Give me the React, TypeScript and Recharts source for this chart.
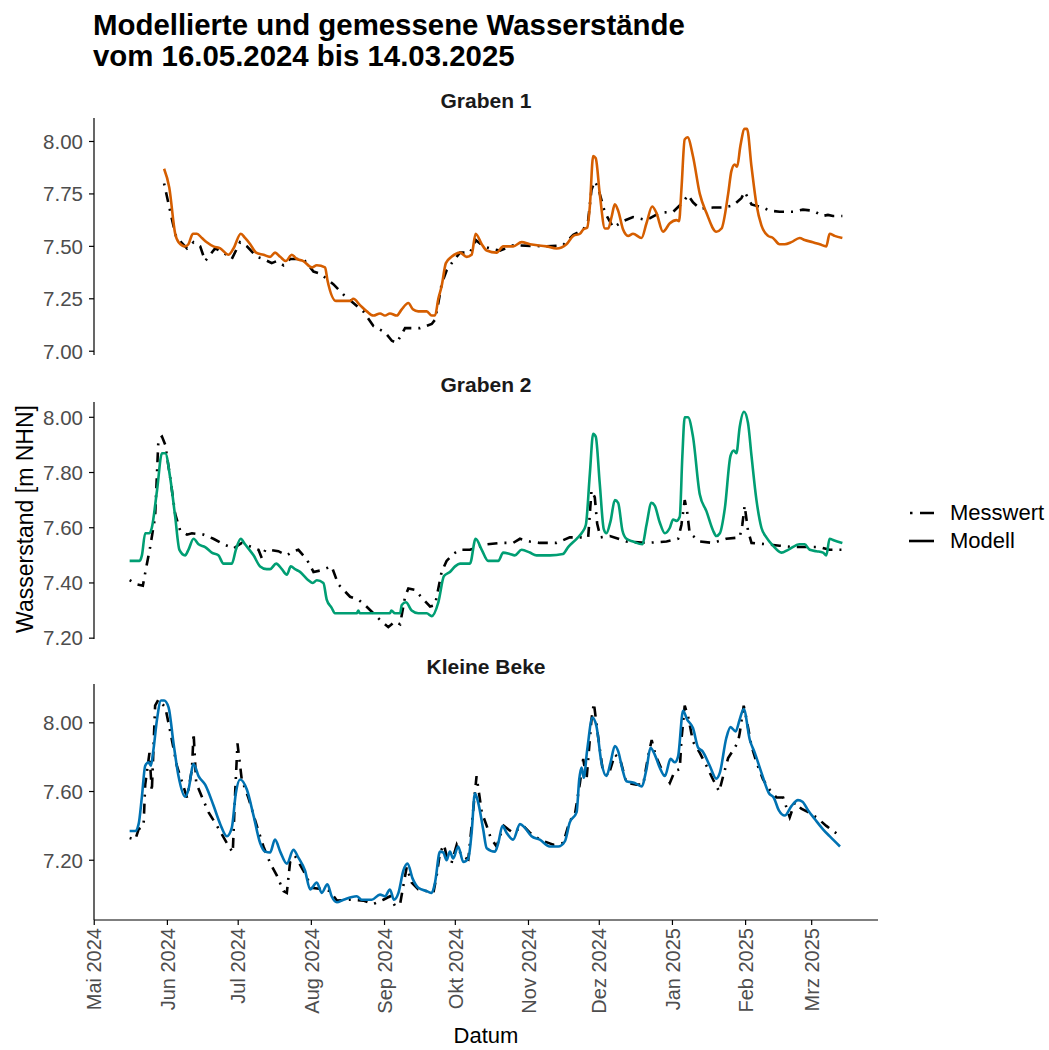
import React from 'react';
import { LineChart, Line, XAxis, YAxis } from 'recharts';

// ---------- axis definitions (x = days since 16.05.2024) ----------
const monthTicks = [-15, 16, 46, 77, 108, 138, 169, 199, 230, 261, 289];
const monthLabels = ['Mai 2024', 'Jun 2024', 'Jul 2024', 'Aug 2024', 'Sep 2024', 'Okt 2024', 'Nov 2024', 'Dez 2024', 'Jan 2025', 'Feb 2025', 'Mrz 2025'];
const xDomain: [number, number] = [-15.1, 317.1];

const graben1Ticks = [7.0, 7.25, 7.5, 7.75, 8.0];
const graben2Ticks = [7.2, 7.4, 7.6, 7.8, 8.0];
const kleineBekeTicks = [7.2, 7.6, 8.0];

// ---------- Graben 1 ----------
const graben1Messwert: [number, number][] = [
  [14.6, 7.80], [17.9, 7.63], [19.7, 7.545], [24.3, 7.49], [27.1, 7.52], [29.9, 7.50], [32, 7.43], [36.2, 7.49],
  [39.8, 7.47], [43.3, 7.44], [46.8, 7.52], [49.7, 7.50], [53.9, 7.45], [56.7, 7.44], [60.2, 7.42], [62.4, 7.43],
  [65.2, 7.41], [68, 7.44], [73.6, 7.44], [77.9, 7.38], [80.7, 7.37], [86.3, 7.32], [90.6, 7.27], [94.8, 7.23],
  [99, 7.19], [103.3, 7.12], [108.2, 7.09], [111.1, 7.05], [113.2, 7.04], [116.7, 7.11], [123, 7.11], [128, 7.13],
  [129.4, 7.15], [130.8, 7.23], [132.2, 7.32], [134.3, 7.385], [137.1, 7.43], [140, 7.47], [144.2, 7.47], [146.7, 7.53],
  [149.8, 7.50], [152.7, 7.49], [156.9, 7.48], [162.5, 7.505], [176.7, 7.50], [183.6, 7.505], [188, 7.555], [192.2, 7.58],
  [194.3, 7.625], [195.7, 7.77], [197.1, 7.81], [198.5, 7.78], [201.4, 7.66], [204.9, 7.59], [209.1, 7.62], [213.3, 7.64],
  [219, 7.625], [224.6, 7.66], [230.3, 7.665], [234.5, 7.71], [236.6, 7.745], [238.7, 7.71], [241.6, 7.68], [247.2, 7.685],
  [251.4, 7.685], [255.7, 7.695], [259.2, 7.73], [260.6, 7.76], [263.5, 7.70], [268.4, 7.685], [271.2, 7.67], [275.4, 7.665],
  [281.1, 7.665], [285.3, 7.675], [289.5, 7.67], [293.7, 7.645], [295.9, 7.65], [298, 7.645], [302, 7.645],
];
const graben1Modell: [number, number][] = [
  [14.6, 7.87], [16.8, 7.78], [19.3, 7.56], [20.7, 7.52], [23.5, 7.50], [24.9, 7.51], [26.8, 7.56], [28.5, 7.56],
  [30.6, 7.54], [32.7, 7.52], [35.5, 7.50], [38.4, 7.49], [41.9, 7.46], [44, 7.49], [47.1, 7.56], [48.9, 7.54],
  [51.1, 7.51], [53.6, 7.47], [56.7, 7.46], [59.5, 7.45], [61.6, 7.47], [63.8, 7.45], [66.2, 7.43], [68.7, 7.46],
  [70.8, 7.44], [73.6, 7.43], [77.2, 7.40], [79.3, 7.41], [82.8, 7.40], [83.8, 7.34], [87.5, 7.24], [93.4, 7.24],
  [94.8, 7.25], [97.6, 7.22], [100.5, 7.19], [103.3, 7.17], [106.1, 7.18], [108.2, 7.17], [110.3, 7.18], [113.2, 7.17],
  [115.3, 7.20], [118.1, 7.23], [120, 7.20], [122.3, 7.19], [125.9, 7.19], [128, 7.17], [129.4, 7.17], [130.8, 7.25],
  [132.2, 7.31], [134, 7.42], [136.4, 7.45], [140, 7.47], [142.8, 7.45], [144.9, 7.46], [146.6, 7.56], [149.2, 7.51],
  [151.3, 7.48], [155.5, 7.47], [158.3, 7.50], [162.5, 7.50], [166.1, 7.52], [169.6, 7.51], [176.7, 7.50], [180.9, 7.49],
  [185.1, 7.51], [188, 7.55], [190.8, 7.56], [192.2, 7.58], [193.9, 7.59], [195, 7.69], [196.4, 7.93], [197.5, 7.92],
  [199.2, 7.75], [201.4, 7.585], [202.8, 7.585], [204.2, 7.64], [205.6, 7.70], [207, 7.67], [209.1, 7.58], [211.2, 7.55],
  [213.3, 7.56], [216.9, 7.54], [219, 7.61], [221.4, 7.69], [223.2, 7.66], [226, 7.57], [228.9, 7.61], [231.7, 7.625],
  [232.8, 7.62], [233.8, 7.77], [235.2, 8.01], [236.4, 8.02], [238.7, 7.93], [241.6, 7.75], [244.4, 7.66], [248.6, 7.57],
  [250.8, 7.585], [253.6, 7.75], [255, 7.86], [256.4, 7.89], [257.4, 7.88], [258.8, 7.98], [260.6, 8.06], [261.6, 8.06],
  [263.5, 7.88], [265.6, 7.70], [267.7, 7.60], [270.5, 7.55], [272.6, 7.54], [275.4, 7.51], [277.6, 7.51], [280.4, 7.52],
  [283.9, 7.54], [286, 7.53], [289.5, 7.52], [292.4, 7.51], [295.2, 7.50], [296.6, 7.56], [298.7, 7.55], [302, 7.54],
];

// ---------- Graben 2 ----------
const graben2Messwert: [number, number][] = [
  [0, 7.41], [3.1, 7.395], [5.6, 7.39], [7, 7.455], [8.7, 7.53], [10.8, 7.64], [12.2, 7.92], [13.7, 7.93],
  [15.1, 7.90], [17.2, 7.78], [19.3, 7.65], [21.4, 7.59], [24.3, 7.575], [26.4, 7.58], [31.3, 7.575], [35.5, 7.56],
  [39.8, 7.54], [44, 7.525], [47.5, 7.545], [50.3, 7.535], [54.6, 7.52], [56, 7.49], [57.5, 7.52], [59.5, 7.52],
  [63, 7.515], [66.6, 7.50], [69.4, 7.515], [71.5, 7.52], [75.1, 7.485], [77.9, 7.44], [80.7, 7.445], [85.6, 7.46],
  [88.4, 7.395], [93.4, 7.35], [96.9, 7.34], [99.7, 7.32], [103.3, 7.29], [106.8, 7.26], [109.6, 7.24], [112.4, 7.26],
  [114.6, 7.25], [116.7, 7.35], [118.1, 7.38], [120.9, 7.375], [124.5, 7.34], [127.3, 7.315], [129.4, 7.32], [130.8, 7.38],
  [132.2, 7.44], [134.3, 7.48], [137.1, 7.505], [140, 7.52], [144.2, 7.52], [147.7, 7.53], [151.3, 7.54], [156.9, 7.545],
  [162.5, 7.545], [165.4, 7.56], [169.6, 7.55], [173.8, 7.545], [180.9, 7.545], [186.5, 7.565], [192.2, 7.565], [194.3, 7.565],
  [195.7, 7.735], [197.1, 7.71], [198.1, 7.615], [199.5, 7.565], [203.5, 7.57], [210.5, 7.55], [219, 7.545], [227.5, 7.55],
  [232.4, 7.56], [233.8, 7.61], [235.2, 7.70], [236.2, 7.66], [237.3, 7.58], [241.6, 7.55], [247.2, 7.545], [252.8, 7.56],
  [258.5, 7.565], [259.6, 7.61], [260.6, 7.68], [262, 7.59], [263.5, 7.545], [269.8, 7.54], [275.4, 7.535], [281.1, 7.53],
  [286.7, 7.53], [292.4, 7.53], [296.6, 7.52], [302, 7.52],
];
const graben2Modell: [number, number][] = [
  [0, 7.48], [4.2, 7.48], [5.2, 7.50], [6.6, 7.58], [8.4, 7.58], [9.4, 7.60], [11.6, 7.735], [13.7, 7.87],
  [15.1, 7.87], [17.2, 7.78], [19.3, 7.64], [21.1, 7.52], [23.5, 7.50], [24.9, 7.52], [27.1, 7.56], [29.2, 7.54],
  [32, 7.53], [34.8, 7.51], [37.6, 7.50], [39.8, 7.47], [43.3, 7.47], [45, 7.52], [47.1, 7.56], [48.9, 7.54],
  [52.5, 7.50], [55.3, 7.46], [58.1, 7.45], [59.5, 7.45], [62.1, 7.47], [64.5, 7.45], [66.6, 7.43], [68.3, 7.46],
  [70.1, 7.45], [72.2, 7.44], [75.7, 7.41], [77.6, 7.40], [79.3, 7.41], [82.1, 7.40], [83.5, 7.34], [85.6, 7.31],
  [87, 7.29], [96.2, 7.29], [96.9, 7.30], [97.5, 7.29], [110.3, 7.29], [110.9, 7.30], [112.4, 7.29], [114.6, 7.29],
  [115.3, 7.32], [117.1, 7.33], [119.5, 7.30], [122.3, 7.29], [125.9, 7.29], [128, 7.28], [130.8, 7.33], [133.2, 7.425],
  [135.7, 7.44], [137.9, 7.46], [140, 7.47], [144.2, 7.47], [146.6, 7.56], [149.2, 7.52], [151.9, 7.48], [156.2, 7.48],
  [158.3, 7.51], [161.1, 7.505], [163.2, 7.50], [166.1, 7.52], [169.6, 7.51], [172.4, 7.50], [178.1, 7.50], [183.6, 7.505],
  [185.8, 7.53], [189.4, 7.56], [191.5, 7.58], [193.3, 7.61], [195, 7.795], [196.4, 7.94], [197.5, 7.93], [199.2, 7.76],
  [200.9, 7.595], [202, 7.58], [203.8, 7.625], [205.6, 7.70], [207, 7.69], [208.8, 7.59], [210.5, 7.56], [213.3, 7.55],
  [217.3, 7.54], [219, 7.61], [221.1, 7.69], [222.5, 7.68], [224.6, 7.62], [226.8, 7.58], [228.9, 7.60], [230.3, 7.63],
  [231.7, 7.625], [233.1, 7.64], [234.2, 7.86], [235.2, 8.00], [236.6, 8.00], [238.7, 7.93], [241.6, 7.72], [244.4, 7.66],
  [247.2, 7.59], [248.6, 7.57], [250.1, 7.58], [252.2, 7.67], [254.6, 7.86], [256, 7.88], [257.1, 7.87], [258.5, 7.965],
  [260.3, 8.02], [262, 7.98], [263.5, 7.86], [265.6, 7.70], [267.7, 7.60], [269.8, 7.565], [272.6, 7.535], [276.2, 7.51],
  [279, 7.52], [283.9, 7.54], [286, 7.54], [288.2, 7.52], [291, 7.515], [293.8, 7.51], [295.2, 7.50], [296.6, 7.56],
  [298.3, 7.555], [302, 7.545],
];

// ---------- Kleine Beke ----------
const kleineBekeMesswert: [number, number][] = [
  [0, 7.33], [2.4, 7.32], [3.8, 7.38], [5.9, 7.40], [6.6, 7.64], [8.4, 7.825], [9.4, 7.60], [10.8, 8.10],
  [12.2, 8.135], [15.1, 8.09], [17.2, 7.95], [20, 7.75], [24.3, 7.565], [26.4, 7.73], [27.1, 7.94], [28.2, 7.65],
  [30.6, 7.57], [33.4, 7.48], [37, 7.40], [41.2, 7.30], [43.7, 7.245], [44.7, 7.59], [45.7, 7.88], [47.5, 7.67],
  [50.3, 7.565], [53.9, 7.40], [56.7, 7.28], [59.5, 7.185], [62.4, 7.11], [65.2, 7.02], [66.6, 7.01], [68, 7.19],
  [70.1, 7.225], [73.6, 7.14], [77.2, 7.04], [82.1, 7.03], [84.9, 7.02], [87.8, 6.965], [93.4, 6.97], [99, 6.965],
  [103.3, 6.945], [107.5, 6.97], [110.3, 6.99], [112.4, 6.935], [114.6, 6.945], [115.7, 7.03], [117.4, 7.16], [119.5, 7.07],
  [122.3, 7.03], [125.9, 7.02], [128.7, 7.01], [130.1, 7.11], [131.5, 7.245], [133.2, 7.29], [134.3, 7.225], [136.4, 7.185],
  [138.6, 7.29], [140.7, 7.225], [143.5, 7.205], [145.6, 7.495], [147, 7.69], [149.2, 7.48], [151.3, 7.40], [153, 7.33],
  [155.5, 7.28], [156.9, 7.34], [158.6, 7.40], [160.4, 7.38], [162.5, 7.36], [166.8, 7.40], [169.6, 7.36], [173.8, 7.32],
  [179.5, 7.29], [183.7, 7.30], [186.5, 7.43], [188.6, 7.46], [190.8, 7.65], [192.2, 7.79], [193.6, 7.67], [195.7, 8.02],
  [196.7, 8.115], [198.5, 7.92], [200.4, 7.73], [202.8, 7.69], [205.6, 7.815], [207.8, 7.79], [210.5, 7.65], [214.8, 7.64],
  [217.6, 7.64], [219.7, 7.805], [221.2, 7.90], [223, 7.805], [225.4, 7.73], [228.9, 7.65], [231, 7.72], [233.1, 7.73],
  [233.8, 7.90], [235.2, 8.10], [236.6, 8.04], [238.7, 7.89], [241.6, 7.825], [244.4, 7.75], [247.2, 7.67], [249.8, 7.60],
  [251.5, 7.69], [253.6, 7.795], [256.4, 7.855], [257.8, 7.89], [258.5, 7.94], [260.2, 8.10], [261.4, 8.02], [263.5, 7.865],
  [265.6, 7.77], [268.4, 7.67], [271.2, 7.61], [274.1, 7.565], [276.9, 7.565], [279.7, 7.45], [281.8, 7.535], [284.6, 7.50],
  [287.5, 7.48], [291, 7.45], [295.2, 7.40], [300.1, 7.35], [302, 7.34],
];
const kleineBekeModell: [number, number][] = [
  [0, 7.37], [2.4, 7.37], [3.8, 7.41], [5.2, 7.57], [6.6, 7.75], [8, 7.77], [9, 7.75], [10.1, 7.845],
  [11.6, 8.02], [13.3, 8.13], [14.6, 8.13], [16.5, 8.09], [18.6, 7.88], [20.7, 7.69], [23.5, 7.57], [24.9, 7.61],
  [27.1, 7.76], [29.2, 7.69], [32, 7.64], [35.5, 7.52], [38.4, 7.41], [41.2, 7.34], [43.3, 7.39], [45, 7.59],
  [46.8, 7.67], [49.7, 7.61], [52.5, 7.46], [55.3, 7.30], [57.4, 7.25], [59.5, 7.245], [61.6, 7.32], [63.8, 7.25],
  [66.6, 7.18], [69.4, 7.26], [71.5, 7.215], [74.3, 7.14], [76.5, 7.03], [79.3, 7.07], [81.4, 7.01], [83.8, 7.06],
  [85.6, 6.99], [87.8, 6.955], [90.6, 6.97], [96.2, 6.99], [98.3, 6.97], [102.6, 6.97], [106.1, 7.00], [108.2, 6.99],
  [110.3, 7.03], [112, 6.97], [113.9, 7.01], [116, 7.14], [117.7, 7.18], [120, 7.09], [122.3, 7.04], [125.9, 7.02],
  [128, 7.01], [129.4, 7.07], [131.5, 7.25], [132.9, 7.245], [134.3, 7.20], [135.7, 7.25], [137.1, 7.21], [139.2, 7.28],
  [141.4, 7.19], [143.5, 7.21], [144.9, 7.36], [146.3, 7.59], [147.7, 7.535], [149.8, 7.38], [151.3, 7.27], [154.8, 7.25],
  [156.2, 7.30], [158, 7.40], [159.7, 7.36], [162.5, 7.32], [165.4, 7.41], [167.4, 7.39], [170.3, 7.34], [173.8, 7.32],
  [178, 7.28], [181.6, 7.28], [184.4, 7.31], [186.5, 7.42], [189.4, 7.48], [190.5, 7.67], [191.5, 7.74], [192.4, 7.68],
  [193.9, 7.845], [196.1, 8.03], [197.8, 7.98], [199.9, 7.77], [202, 7.69], [203.8, 7.77], [205.6, 7.865], [207, 7.835],
  [208.8, 7.73], [210.5, 7.66], [214, 7.65], [216.9, 7.63], [219, 7.73], [220.7, 7.855], [222.5, 7.815], [224.6, 7.74],
  [226.8, 7.69], [229.2, 7.79], [231, 7.77], [232.4, 7.805], [234.5, 8.07], [236.2, 8.02], [238.7, 7.97], [240.9, 7.855],
  [242.7, 7.835], [245.8, 7.75], [248.6, 7.675], [250.1, 7.71], [252.8, 7.91], [254.6, 7.975], [256.8, 7.95], [258.5, 8.02],
  [260.2, 8.08], [262.8, 7.90], [264.9, 7.825], [267.7, 7.71], [270.9, 7.59], [272.9, 7.565], [275.1, 7.49], [277.6, 7.46],
  [280.4, 7.515], [283.2, 7.55], [285.1, 7.54], [287.5, 7.49], [290.3, 7.44], [293.8, 7.38], [296.6, 7.34], [301, 7.28],
];

// ---------- styling ----------
const FONT = '"Liberation Sans", Arial, Helvetica, sans-serif';
const TICK_GREY = '#4d4d4d';
const DOTDASH = '2 7 10 7';
const LINE_W = 2.6;
const AXIS_W = 1.2;

const toRows = (pts: [number, number][]) => pts.map(([d, v]) => ({ d, v }));

type Panel = {
  name: string;
  top: number;
  bottom: number;
  domain: [number, number];
  ticks: number[];
  mess: [number, number][];
  mod: [number, number][];
  color: string;
  showX: boolean;
};

const panels: Panel[] = [
  { name: 'Graben 1', top: 117.5, bottom: 354.5, domain: [6.982, 8.112], ticks: graben1Ticks, mess: graben1Messwert, mod: graben1Modell, color: '#D55E00', showX: false },
  { name: 'Graben 2', top: 401.5, bottom: 638.5, domain: [7.197, 8.0554], ticks: graben2Ticks, mess: graben2Messwert, mod: graben2Modell, color: '#009E73', showX: false },
  { name: 'Kleine Beke', top: 684, bottom: 920, domain: [6.852, 8.226], ticks: kleineBekeTicks, mess: kleineBekeMesswert, mod: kleineBekeModell, color: '#0072B2', showX: true },
];

const PLOT_LEFT = 94;
const PLOT_RIGHT = 878;
const Y_AXIS_W = 60;
const PAD_TOP = 20;
const PAD_BOTTOM = 16;
const X_AXIS_H = 110;

const MonthTick = (props: any) => {
  const { x, y, payload } = props;
  const i = monthTicks.indexOf(payload.value);
  return (
    <text
      x={x}
      y={y}
      transform={`rotate(-90, ${x}, ${y})`}
      textAnchor="end"
      dy="0.36em"
      fill={TICK_GREY}
      fontSize={20}
      fontFamily={FONT}
    >
      {monthLabels[i]}
    </text>
  );
};

const PanelChart = ({ p }: { p: Panel }) => {
  const plotH = p.bottom - p.top;
  const bottomPad = p.showX ? 0 : PAD_BOTTOM;
  const height = PAD_TOP + plotH + (p.showX ? X_AXIS_H : bottomPad);
  return (
    <div style={{ position: 'absolute', left: 0, top: p.top - PAD_TOP }}>
      <LineChart
        width={PLOT_RIGHT}
        height={height}
        margin={{ top: PAD_TOP, right: 0, bottom: bottomPad, left: PLOT_LEFT - Y_AXIS_W }}
      >
        {p.showX ? (
          <XAxis
            type="number"
            dataKey="d"
            domain={xDomain}
            ticks={monthTicks}
            interval={0}
            allowDataOverflow
            height={X_AXIS_H}
            tickSize={5}
            tickMargin={3}
            tick={<MonthTick />}
            axisLine={{ stroke: '#000', strokeWidth: AXIS_W }}
            tickLine={{ stroke: '#000', strokeWidth: AXIS_W }}
          />
        ) : (
          <XAxis hide type="number" dataKey="d" domain={xDomain} allowDataOverflow />
        )}
        <YAxis
          type="number"
          domain={p.domain}
          ticks={p.ticks}
          interval={0}
          allowDataOverflow
          width={Y_AXIS_W}
          tickSize={5}
          tickMargin={6}
          tickFormatter={(v: number) => v.toFixed(2)}
          tick={{ fill: TICK_GREY, fontSize: 20.5, fontFamily: FONT }}
          axisLine={{ stroke: '#000', strokeWidth: AXIS_W }}
          tickLine={{ stroke: '#000', strokeWidth: AXIS_W }}
        />
        <Line
          data={toRows(p.mess)}
          dataKey="v"
          name="Messwert"
          type="linear"
          stroke="#000"
          strokeWidth={LINE_W}
          strokeDasharray={DOTDASH}
          dot={false}
          activeDot={false}
          isAnimationActive={false}
        />
        <Line
          data={toRows(p.mod)}
          dataKey="v"
          name="Modell"
          type="monotone"
          stroke={p.color}
          strokeWidth={LINE_W}
          dot={false}
          activeDot={false}
          isAnimationActive={false}
        />
      </LineChart>
    </div>
  );
};

export default function App() {
  return (
    <div
      style={{
        position: 'absolute',
        left: 0,
        top: 0,
        width: 1049,
        height: 1050,
        background: '#fff',
        overflow: 'hidden',
        fontFamily: FONT,
      }}
    >
      {panels.map((p) => (
        <PanelChart key={p.name} p={p} />
      ))}
      <svg
        width={1049}
        height={1050}
        style={{ position: 'absolute', left: 0, top: 0, pointerEvents: 'none' }}
      >
        <text x={93} y={35} fontSize={29.4} fontWeight="bold" fontFamily={FONT} fill="#000">
          Modellierte und gemessene Wasserstände
        </text>
        <text x={93} y={66} fontSize={29.4} fontWeight="bold" fontFamily={FONT} fill="#000">
          vom 16.05.2024 bis 14.03.2025
        </text>
        {panels.map((p) => (
          <text
            key={p.name}
            x={(PLOT_LEFT + PLOT_RIGHT) / 2}
            y={p.top - 10}
            textAnchor="middle"
            fontSize={21}
            fontWeight="bold"
            fontFamily={FONT}
            fill="#1a1a1a"
          >
            {p.name}
          </text>
        ))}
        <text
          x={33}
          y={519}
          transform="rotate(-90, 33, 519)"
          textAnchor="middle"
          fontSize={23}
          fontFamily={FONT}
          fill="#000"
        >
          Wasserstand [m NHN]
        </text>
        <text x={486} y={1043} textAnchor="middle" fontSize={22} fontFamily={FONT} fill="#000">
          Datum
        </text>
        {/* legend */}
        <line x1={910} y1={513} x2={934} y2={513} stroke="#000" strokeWidth={LINE_W} strokeDasharray="2.5 7.5 15 7" />
        <text x={950} y={520} fontSize={22} fontFamily={FONT} fill="#000">
          Messwert
        </text>
        <line x1={909} y1={541} x2={934} y2={541} stroke="#000" strokeWidth={LINE_W} />
        <text x={950} y={548} fontSize={22} fontFamily={FONT} fill="#000">
          Modell
        </text>
      </svg>
    </div>
  );
}
